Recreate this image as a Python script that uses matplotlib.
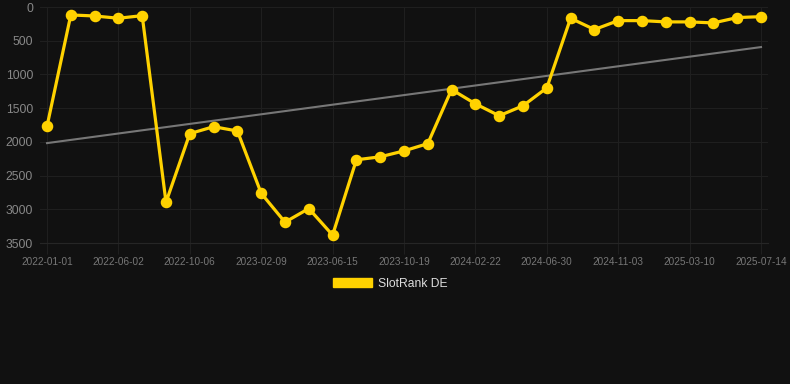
import numpy as np
import matplotlib
matplotlib.use("Agg")
from matplotlib import pyplot as plt
from matplotlib.patches import Patch

# rank values, one per snapshot (category axis, label every 3rd point)
ranks = [1770, 118, 133, 167, 128, 2896, 1878, 1775, 1839, 2763,
         3191, 2989, 3383, 2266, 2222, 2134, 2026, 1224, 1436, 1613,
         1465, 1200, 167, 334, 202, 202, 221, 221, 236, 157, 143]
tick_labels = ['2022-01-01', '2022-06-02', '2022-10-06', '2023-02-09',
               '2023-06-15', '2023-10-19', '2024-02-22', '2024-06-30',
               '2024-11-03', '2025-03-10', '2025-07-14']
y_ticks = [0, 500, 1000, 1500, 2000, 2500, 3000, 3500]
series_name = 'SlotRank DE'

plt.rcParams['font.family'] = ['Liberation Sans', 'DejaVu Sans']

bg = '#111111'
gold = '#FFD200'

fig = plt.figure(figsize=(7.9, 3.84), dpi=100, facecolor=bg)
W, H = 790, 384
ax = fig.add_axes([40 / W, 1 - 243 / H, 728 / W, 236 / H], facecolor=bg)

x = np.arange(len(ranks))
y = np.array(ranks, dtype=float)

# linear trend
k, b = np.polyfit(x, y, 1)
ax.plot([x[0], x[-1]], [k * x[0] + b, k * x[-1] + b], color='#777777', lw=1.5, zorder=2)

ax.plot(x, y, color=gold, lw=2.3, marker='o', markersize=7.3, zorder=3)

ax.set_xlim(-7 / 23.8, 30 + 7 / 23.8)
ax.set_ylim(3500, 0)
ax.set_xticks(x[::3])
ax.set_xticklabels(tick_labels)
ax.set_yticks(y_ticks)

ax.grid(True, color='#1f1f1f', lw=0.8)
ax.set_axisbelow(True)
for s in ['top', 'right', 'left']:
    ax.spines[s].set_visible(False)
ax.spines['bottom'].set_color('#262626')
ax.tick_params(axis='x', colors='#777777', labelsize=7.2, length=8, color='#1f1f1f', pad=2)
ax.tick_params(axis='y', colors='#888888', labelsize=8.7, length=0, pad=5)

fig.legend(handles=[Patch(facecolor=gold, edgecolor=gold)], labels=[series_name],
           loc='center', bbox_to_anchor=(390 / W, 1 - 284 / H), frameon=False,
           fontsize=8.7, labelcolor='#dddddd', handlelength=3.2, handleheight=0.8,
           handletextpad=0.5)

fig.savefig('out.png', dpi=100, facecolor=bg)
